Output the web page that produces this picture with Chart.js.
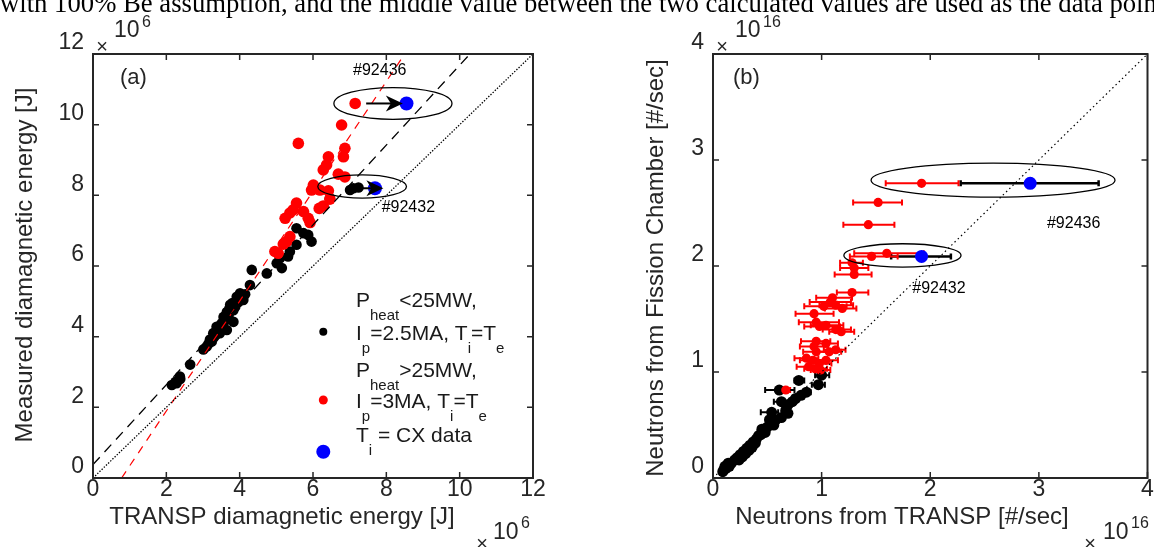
<!DOCTYPE html>
<html>
<head>
<meta charset="utf-8">
<script src="https://cdn.jsdelivr.net/npm/chart.js@4.4.1/dist/chart.umd.min.js"></script>
<style>
  body { margin: 0; background: #fff; width: 1154px; height: 547px; overflow: hidden; position: relative; }
  canvas { position: absolute; top: 0; }
  #caption { position: absolute; left: 0; top: -10px; font: 26.7px "Liberation Serif", serif; line-height: 26px; white-space: nowrap; color: #000; z-index: 2; }
</style>
</head>
<body>
<div id="caption">with 100% Be assumption, and the middle value between the two calculated values are used as the data points</div>
<canvas id="chartA" width="577" height="547" style="left:0"></canvas>
<canvas id="chartB" width="577" height="547" style="left:577px"></canvas>
<script>
const aTicks = [0, 2, 4, 6, 8, 10, 12];
const bTicks = [0, 1, 2, 3, 4];

// (a) stored energy, 1e6 J: [TRANSP, measured]
const aLowPower = [
  [7.10, 8.20], [7.24, 8.22], [7.01, 8.15], [6.46, 7.92],
  [5.55, 7.07], [5.74, 6.93], [5.87, 6.88], [5.96, 6.69], [5.55, 6.60], [5.37, 6.41],
  [5.32, 6.27], [5.10, 6.22], [5.15, 5.94], [5.01, 6.08], [4.74, 5.79], [4.33, 5.89],
  [4.28, 5.46], [4.01, 5.23], [3.92, 5.13], [4.10, 5.04], [4.05, 5.18], [3.97, 4.98],
  [4.15, 5.20], [3.80, 4.95], [3.95, 5.08], [3.74, 4.90], [3.83, 4.75], [3.72, 4.80],
  [3.65, 4.70], [3.88, 4.85], [3.56, 4.56], [3.70, 4.62], [3.58, 4.50], [3.83, 4.42],
  [3.51, 4.38], [3.60, 4.45], [3.45, 4.30], [3.37, 4.28], [3.65, 4.19], [3.28, 4.10],
  [3.46, 4.10], [3.40, 4.20], [3.35, 4.05], [3.19, 3.92], [3.30, 3.98], [3.24, 3.86],
  [3.10, 3.72], [3.01, 3.64], [3.15, 3.80], [2.65, 3.21], [2.37, 2.87], [2.38, 2.80],
  [2.28, 2.68], [2.25, 2.72], [2.15, 2.63]
];
const aHighPower = [
  [5.60, 9.47], [6.78, 9.99], [6.87, 9.33], [6.83, 9.09], [6.42, 9.09], [6.37, 8.86],
  [6.28, 8.72], [6.69, 8.60], [6.87, 8.52], [6.01, 8.29], [5.96, 8.15], [6.19, 8.15],
  [6.42, 8.13], [6.46, 7.89], [6.28, 7.70], [6.17, 7.63], [5.55, 7.78], [5.46, 7.59],
  [5.37, 7.50], [5.24, 7.35], [5.74, 7.54], [5.87, 7.35], [5.92, 7.23], [5.37, 6.83],
  [5.28, 6.69], [5.19, 6.62], [5.05, 6.36], [4.96, 6.41], [7.15, 10.60]
];
const aCX = [[8.55, 10.60], [7.69, 8.20]];
const aUnity = [[0, 0], [12, 12]];
const aFitAll = [[0, 0.38], [10.28, 12]];
const aFitHigh = [[0.78, 0], [8.5, 12]];

// (b) neutron rate, 1e16 /s: [TRANSP, fission chamber, TRANSP low, TRANSP high]
const bLowPower = [
  [1.00, 0.97, 0.94, 1.07], [0.97, 0.88, 0.91, 1.03], [0.79, 0.92, 0.75, 0.84],
  [0.61, 0.83, 0.48, 0.75], [0.86, 0.81, 0.83, 0.90], [0.81, 0.78, 0.79, 0.84],
  [0.76, 0.75, 0.74, 0.79], [0.73, 0.72, 0.71, 0.76], [0.63, 0.72, 0.56, 0.71],
  [0.69, 0.69, 0.67, 0.72], [0.67, 0.64, 0.65, 0.70], [0.54, 0.62, 0.44, 0.60],
  [0.69, 0.61, 0.67, 0.72], [0.63, 0.57, 0.61, 0.66], [0.58, 0.55, 0.56, 0.61],
  [0.54, 0.52, 0.52, 0.57], [0.50, 0.48, 0.48, 0.53], [0.56, 0.50, 0.54, 0.58],
  [0.47, 0.45, 0.45, 0.50], [0.44, 0.41, 0.42, 0.47], [0.48, 0.43, 0.46, 0.50],
  [0.45, 0.46, 0.43, 0.47], [0.52, 0.55, 0.50, 0.54], [0.40, 0.37, 0.38, 0.42],
  [0.42, 0.40, 0.40, 0.44], [0.37, 0.34, 0.35, 0.39], [0.39, 0.33, 0.37, 0.41],
  [0.34, 0.31, 0.32, 0.36], [0.36, 0.29, 0.34, 0.38], [0.31, 0.28, 0.29, 0.33],
  [0.33, 0.26, 0.31, 0.35], [0.28, 0.25, 0.26, 0.30], [0.30, 0.23, 0.28, 0.32],
  [0.25, 0.22, 0.23, 0.27], [0.27, 0.20, 0.25, 0.29], [0.22, 0.19, 0.20, 0.24],
  [0.24, 0.17, 0.22, 0.26], [0.20, 0.17, 0.18, 0.22], [0.17, 0.14, 0.15, 0.19],
  [0.14, 0.14, 0.12, 0.16], [0.15, 0.11, 0.13, 0.17], [0.11, 0.11, 0.09, 0.13],
  [0.12, 0.09, 0.10, 0.14], [0.10, 0.08, 0.08, 0.12], [0.09, 0.06, 0.07, 0.11]
];
const bHighPower = [
  [1.92, 2.78, 1.59, 2.26], [1.52, 2.60, 1.29, 1.74], [1.43, 2.39, 1.20, 1.67],
  [1.46, 2.09, 1.26, 1.70], [1.60, 2.12, 1.30, 1.94], [1.28, 2.03, 1.17, 1.38],
  [1.30, 1.98, 1.17, 1.43], [1.30, 1.92, 1.12, 1.46], [1.28, 1.75, 1.14, 1.43],
  [1.10, 1.70, 0.95, 1.28], [1.08, 1.66, 0.89, 1.27], [1.02, 1.62, 0.84, 1.23],
  [1.13, 1.63, 0.98, 1.29], [1.19, 1.60, 1.03, 1.32], [0.93, 1.55, 0.76, 1.11],
  [0.95, 1.47, 0.79, 1.16], [0.98, 1.43, 0.84, 1.17], [1.04, 1.44, 0.90, 1.20],
  [1.13, 1.40, 1.01, 1.27], [1.18, 1.38, 1.07, 1.30], [0.95, 1.29, 0.81, 1.08],
  [0.93, 1.24, 0.80, 1.06], [1.04, 1.27, 0.92, 1.15], [0.95, 1.19, 0.83, 1.07],
  [1.07, 1.19, 0.96, 1.18], [1.13, 1.21, 1.02, 1.22], [0.86, 1.13, 0.75, 0.97],
  [0.92, 1.11, 0.80, 1.03], [0.98, 1.08, 0.88, 1.09], [1.04, 1.11, 0.93, 1.15],
  [0.88, 1.05, 0.77, 0.98], [0.94, 1.03, 0.84, 1.05], [0.99, 1.02, 0.90, 1.08],
  [0.67, 0.83, 0.65, 0.71]
];
const bCX = [[2.92, 2.78, 2.28, 3.55], [1.92, 2.09, 1.64, 2.19]];
const bUnity = [[0, 0], [4, 4]];

// circled shots: [label, cx, cy, rx, ry, label x, label y]
const aShots = [["#92436", 8.18, 10.6, 1.61, 0.45, 7.82, 11.41], ["#92432", 7.34, 8.25, 1.21, 0.33, 8.60, 7.53]];
const bShots = [["#92436", 2.578, 2.81, 1.123, 0.16, 3.32, 2.36], ["#92432", 1.744, 2.10, 0.539, 0.11, 2.08, 1.745]];
const aArrows = [[7.45, 10.6, 8.45, 10.6], [7.19, 8.2, 7.92, 8.2]];

const SANS = '"Liberation Sans", Arial, sans-serif';
const INK = '#262626';

const pts = arr => arr.map(([x, y]) => ({ x, y }));
const dots = (arr, color, r) => ({
  data: pts(arr), backgroundColor: color, borderWidth: 0, pointRadius: r, pointHoverRadius: r
});
const line = (arr, color, dash, w) => ({
  data: pts(arr), showLine: true, borderColor: color, borderDash: dash, borderWidth: w, pointRadius: 0, fill: false
});
const withErr = (ds, arr, color, w) => Object.assign(ds, { errX: arr.map(r => [r[2], r[3]]), barColor: color, barWidth: w });

function axis(ticks, fixed, isY) {
  return {
    type: 'linear', min: ticks[0], max: ticks[ticks.length - 1],
    afterBuildTicks: s => { s.ticks = ticks.map(v => ({ value: v })); },
    afterFit: s => {
      if (isY) s.width = fixed; else s.height = fixed;
      s.paddingLeft = s.paddingRight = s.paddingTop = s.paddingBottom = 0;
    },
    grid: { display: false, drawTicks: false },
    border: { display: false },
    ticks: {
      color: INK, font: { family: SANS, size: 23 }, padding: isY ? 9 : -2,
      labelOffset: isY ? -11 : 0, maxRotation: 0, autoSkip: false
    }
  };
}

function richText(ctx, x, y, parts) {
  parts.forEach(([t, sub]) => {
    ctx.font = (sub ? 15 : 21) + 'px ' + SANS;
    ctx.fillText(t, x, sub ? y + 13 : y);
    x += ctx.measureText(t).width;
  });
}

const decor = {
  id: 'decor',
  beforeDatasetsDraw(chart) {
    const { ctx, scales: { x, y } } = chart;
    ctx.save();
    chart.data.datasets.forEach(ds => {
      if (!ds.errX) return;
      ctx.strokeStyle = ds.barColor;
      ctx.lineWidth = ds.barWidth;
      ds.errX.forEach(([lo, hi], i) => {
        const py = y.getPixelForValue(ds.data[i].y);
        const x0 = x.getPixelForValue(lo), x1 = x.getPixelForValue(hi);
        ctx.beginPath();
        ctx.moveTo(x0, py); ctx.lineTo(x1, py);
        ctx.moveTo(x0, py - 3); ctx.lineTo(x0, py + 3);
        ctx.moveTo(x1, py - 3); ctx.lineTo(x1, py + 3);
        ctx.stroke();
      });
    });
    ctx.restore();
  },
  afterDatasetsDraw(chart, args, opts) {
    const { ctx, chartArea: a, scales: { x, y } } = chart;
    ctx.save();
    ctx.strokeStyle = '#000';
    ctx.fillStyle = '#000';
    (opts.shots || []).forEach(([label, cx, cy, rx, ry, lx, ly]) => {
      const px = x.getPixelForValue(cx), py = y.getPixelForValue(cy);
      ctx.lineWidth = 1.3;
      ctx.beginPath();
      ctx.ellipse(px, py, x.getPixelForValue(cx + rx) - px, py - y.getPixelForValue(cy + ry), 0, 0, 2 * Math.PI);
      ctx.stroke();
      ctx.font = '16px ' + SANS;
      ctx.textAlign = 'center';
      ctx.textBaseline = 'alphabetic';
      ctx.fillText(label, x.getPixelForValue(lx), y.getPixelForValue(ly));
    });
    (opts.arrows || []).forEach(([x0, y0, x1, y1]) => {
      const p0 = x.getPixelForValue(x0), p1 = x.getPixelForValue(x1);
      const q0 = y.getPixelForValue(y0), q1 = y.getPixelForValue(y1);
      ctx.lineWidth = 2;
      ctx.beginPath();
      ctx.moveTo(p0, q0); ctx.lineTo(p1 - 10, q1);
      ctx.stroke();
      ctx.beginPath();
      ctx.moveTo(p1, q1);
      ctx.lineTo(p1 - 17, q1 - 8);
      ctx.lineTo(p1 - 12, q1);
      ctx.lineTo(p1 - 17, q1 + 8);
      ctx.closePath();
      ctx.fill();
    });
    // box with inward ticks
    ctx.strokeStyle = INK;
    ctx.lineWidth = 2;
    ctx.strokeRect(a.left, a.top, a.right - a.left, a.bottom - a.top);
    ctx.lineWidth = 1.5;
    ctx.beginPath();
    x.ticks.forEach(t => {
      const p = x.getPixelForValue(t.value);
      ctx.moveTo(p, a.bottom); ctx.lineTo(p, a.bottom - 6);
      ctx.moveTo(p, a.top); ctx.lineTo(p, a.top + 6);
    });
    y.ticks.forEach(t => {
      const p = y.getPixelForValue(t.value);
      ctx.moveTo(a.left, p); ctx.lineTo(a.left + 6, p);
      ctx.moveTo(a.right, p); ctx.lineTo(a.right - 6, p);
    });
    ctx.stroke();
    ctx.restore();
  },
  afterDraw(chart, args, opts) {
    const { ctx } = chart;
    ctx.save();
    ctx.fillStyle = INK;
    ctx.textBaseline = 'alphabetic';
    (opts.texts || []).forEach(t => {
      ctx.font = t.size + 'px ' + SANS;
      ctx.textAlign = t.align || 'left';
      if (t.rot) {
        ctx.save();
        ctx.translate(t.x, t.y);
        ctx.rotate(-Math.PI / 2);
        ctx.textBaseline = 'middle';
        ctx.fillText(t.text, 0, 0);
        ctx.restore();
      } else {
        ctx.fillText(t.text, t.x, t.y);
      }
    });
    if (opts.legend) {
      ctx.textAlign = 'left';
      ctx.fillStyle = '#1a1a1a';
      richText(ctx, 356, 306.7, [['P'], ['heat', 1], ['<25MW,']]);
      richText(ctx, 356, 340, [['I'], ['p', 1], ['=2.5MA, T'], ['i', 1], ['=T'], ['e', 1]]);
      richText(ctx, 356, 376.7, [['P'], ['heat', 1], ['>25MW,']]);
      richText(ctx, 356, 408.3, [['I'], ['p', 1], ['=3MA, T'], ['i', 1], ['=T'], ['e', 1]]);
      richText(ctx, 356, 441.7, [['T'], ['i', 1], [' = CX data']]);
      [['#000000', 331.7, 4], ['#ff0000', 400, 4.5], ['#0000ff', 451.7, 7]].forEach(([c, py, r]) => {
        ctx.fillStyle = c;
        ctx.beginPath();
        ctx.arc(323.3, py, r, 0, 2 * Math.PI);
        ctx.fill();
      });
    }
    ctx.restore();
  }
};

new Chart(document.getElementById('chartA'), {
  type: 'scatter',
  data: {
    datasets: [
      line(aUnity, '#000', [1.4, 1.6], 1.3),
      line(aFitAll, '#000', [10, 7], 1.3),
      line(aFitHigh, '#ff0000', [8, 7], 1.2),
      dots(aCX, '#0000ff', 7),
      dots(aHighPower, '#ff0000', 5.8),
      dots(aLowPower, '#000000', 5.3)
    ]
  },
  options: {
    responsive: false, animation: false,
    layout: { padding: { top: 54, right: 44, left: 0, bottom: 0 } },
    scales: { x: axis(aTicks, 69, false), y: axis(aTicks, 93, true) },
    plugins: {
      legend: { display: false }, tooltip: { enabled: false },
      decor: {
        shots: aShots, arrows: aArrows, legend: true,
        texts: [
          { text: '(a)', x: 120, y: 84, size: 22 },
          { text: '\u00d7', x: 102, y: 53, size: 20, align: 'center' },
          { text: '10', x: 114, y: 37, size: 23 },
          { text: '6', x: 142, y: 27, size: 16 },
          { text: '\u00d7', x: 482, y: 550, size: 20, align: 'center' },
          { text: '10', x: 493, y: 539, size: 23 },
          { text: '6', x: 521, y: 528, size: 16 },
          { text: 'TRANSP diamagnetic energy [J]', x: 282, y: 524, size: 24, align: 'center' },
          { text: 'Measured diamagnetic energy [J]', x: 25, y: 265, size: 24, align: 'center', rot: true }
        ]
      }
    }
  },
  plugins: [decor]
});

new Chart(document.getElementById('chartB'), {
  type: 'scatter',
  data: {
    datasets: [
      line(bUnity, '#000', [1.5, 3], 1.2),
      withErr(dots(bCX, '#0000ff', 6.5), bCX, '#000000', 2.5),
      withErr(dots(bHighPower, '#ff0000', 4.6), bHighPower, '#ff0000', 2),
      withErr(dots(bLowPower, '#000000', 5.5), bLowPower, '#000000', 2)
    ]
  },
  options: {
    responsive: false, animation: false,
    layout: { padding: { top: 54, right: 3, left: 0, bottom: 0 } },
    scales: { x: axis(bTicks, 69, false), y: axis(bTicks, 136, true) },
    plugins: {
      legend: { display: false }, tooltip: { enabled: false },
      decor: {
        shots: bShots,
        texts: [
          { text: '(b)', x: 156, y: 84, size: 22 },
          { text: '\u00d7', x: 145, y: 53, size: 20, align: 'center' },
          { text: '10', x: 158, y: 37, size: 23 },
          { text: '16', x: 186, y: 27, size: 16 },
          { text: '\u00d7', x: 513, y: 550, size: 20, align: 'center' },
          { text: '10', x: 526, y: 539, size: 23 },
          { text: '16', x: 554, y: 528, size: 16 },
          { text: 'Neutrons from TRANSP [#/sec]', x: 325, y: 524, size: 24, align: 'center' },
          { text: 'Neutrons from Fission Chamber [#/sec]', x: 79, y: 268, size: 24, align: 'center', rot: true }
        ]
      }
    }
  },
  plugins: [decor]
});
</script>
</body>
</html>
